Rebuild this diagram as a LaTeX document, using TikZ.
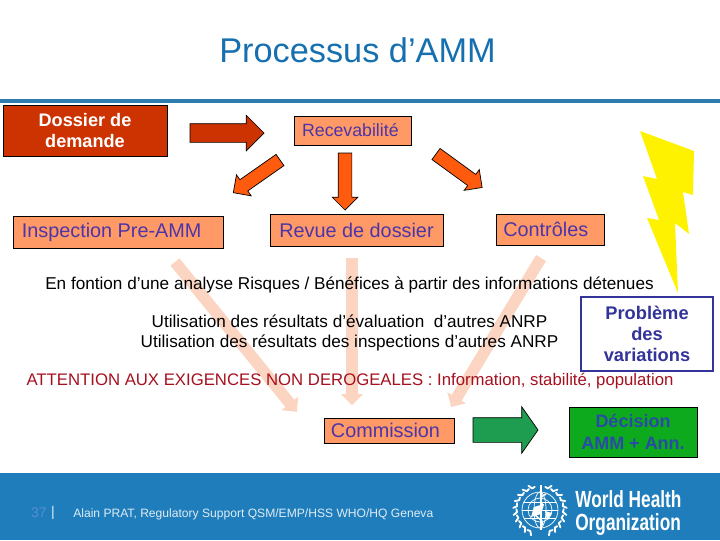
\documentclass[tikz,border=0pt]{standalone}
\usepackage{fontspec}
\setmainfont{Liberation Sans}
\newfontfamily\whofont[FakeStretch=0.74]{Liberation Sans}
\usetikzlibrary{shapes.arrows,calc}

\definecolor{whoblue}{HTML}{1F7DBB}
\definecolor{titleblue}{HTML}{1670B0}
\definecolor{rulebar}{HTML}{2E7CAB}
\definecolor{brick}{HTML}{CC3300}
\definecolor{salmon}{HTML}{FF9966}
\definecolor{violettext}{HTML}{4B35A8}
\definecolor{orangearrow}{HTML}{FF5B0F}
\definecolor{palearrow}{HTML}{FBD5C2}
\definecolor{navybox}{HTML}{333399}
\definecolor{darkred}{HTML}{A50F1E}
\definecolor{greenarrow}{HTML}{1E9C50}
\definecolor{greenbox}{HTML}{0EAA1E}
\definecolor{bluetext}{HTML}{2A4BA5}

\def\pxu{0.025cm}

\tikzset{
  stepbox/.style n args={2}{draw=black,fill=salmon,text=violettext,line width=0.7pt,
    minimum width=#1*\pxu,minimum height=#2*\pxu,inner sep=0pt,outer sep=0pt,align=center,
    font=\fontsize{14.1pt}{15pt}\selectfont},
  blockarrow/.style n args={3}{single arrow,single arrow head indent=0pt,anchor=tail,
    inner sep=#1*0.5*\pxu,outer sep=0pt,single arrow head extend=#2*\pxu,minimum height=#3*\pxu},
  infotext/.style={inner sep=0pt,align=center,font=\fontsize{12.2pt}{14.2pt}\selectfont},
}

\begin{document}
\begin{tikzpicture}[x=0.025cm,y=-0.025cm]
  \useasboundingbox (0,0) rectangle (720,540);

  \fill[whoblue] (0,473) rectangle (720,540);
  \fill[rulebar] (0,99) rectangle (720,103);

  \node[text=titleblue,inner sep=0pt,font=\fontsize{24.4pt}{28pt}\selectfont] (title) at (357.5,50) {Processus d’AMM};

  % faded arrows towards the commission
  \node[blockarrow={11}{5}{193},fill=palearrow,rotate=-50.9] (pale1) at (175,262) {};
  \node[blockarrow={11}{5}{147},fill=palearrow,rotate=-90] (pale2) at (352,258) {};
  \node[blockarrow={11}{5}{174},fill=palearrow,rotate=-121.1] (pale3) at (541,258) {};

  % first row
  \node[stepbox={164}{51},fill=brick,text=white,font=\bfseries\fontsize{12.9pt}{15pt}\selectfont] (dossier) at (85,130.5) {Dossier de\\demande};
  \node[stepbox={117}{29},font=\fontsize{12.6pt}{15pt}\selectfont] (recev) at (352.5,130.5) {Recevabilité\hspace*{3pt}};

  % second row
  \node[stepbox={210}{32}] (inspection) at (118,232) {\raisebox{-0.7pt}{Inspection Pre-AMM}\hspace*{9pt}};
  \node[stepbox={173}{32}] (revue) at (356.5,230) {Revue de dossier};
  \node[stepbox={108}{31}] (controles) at (550,229.5) {Contrôles\hspace*{6pt}};

  \node[blockarrow={18}{8.5}{74},draw=black,fill=brick,line width=0.5pt] (arrow1) at (190,133) {};
  \node[blockarrow={13}{6}{57},draw=black,fill=orangearrow,line width=0.5pt,rotate=-145] (arrow2) at (280,160) {};
  \node[blockarrow={13}{6}{57},draw=black,fill=orangearrow,line width=0.5pt,rotate=-90] (arrow3) at (345,153) {};
  \node[blockarrow={13}{6}{57},draw=black,fill=orangearrow,line width=0.5pt,rotate=-36] (arrow4) at (436,154) {};

  % lightning
  \fill[yellow] (640,131) -- (694,151) -- (693,195) -- (683,192) -- (689,234) -- (675,223)
    -- (678,293) -- (647,218) -- (659,220) -- (643,176) -- (657,179) -- cycle;

  \node[infotext] (analyse) at (349.5,285) {En fontion d’une analyse Risques / Bénéfices à partir des informations détenues};
  \node[infotext] (resultats) at (349.5,333) {Utilisation des résultats d’évaluation\ \ d’autres ANRP\\Utilisation des résultats des inspections d’autres ANRP};
  \node[infotext,text=darkred,font=\fontsize{11.9pt}{14pt}\selectfont] (attention) at (350,381) {ATTENTION AUX EXIGENCES NON DEROGEALES : Information, stabilité, population};

  \node[stepbox={132}{74},draw=navybox,fill=white,text=navybox,line width=1.6pt,
    font=\bfseries\fontsize{13pt}{15pt}\selectfont] (probleme) at (647,334) {Problème\\des\\variations};

  \node[stepbox={130}{25}] (commission) at (389,430.5) {\raisebox{-1.4pt}{Commission}\hspace*{5pt}};
  \node[blockarrow={24}{11}{65},draw=black,fill=greenarrow,line width=0.5pt,single arrow tip angle=110] (arrow5) at (473,430) {};
  \node[stepbox={128}{50},fill=greenbox,text=bluetext,font=\bfseries\fontsize{12.8pt}{15.5pt}\selectfont] (decision) at (633,432) {Décision\\AMM + Ann.};

  % footer
  \node[text=cyan!50!blue!70!white,inner sep=0pt,font=\fontsize{10pt}{12pt}\selectfont] (page) at (39,513) {37};
  \node[text=white!85!whoblue,inner sep=0pt,font=\fontsize{10pt}{12pt}\selectfont] (bar) at (53,513) {|};
  \node[text=white!85!whoblue,inner sep=0pt,anchor=west,font=\fontsize{8.6pt}{10pt}\selectfont] (author) at (73,514.5) {Alain PRAT, Regulatory Support QSM/EMP/HSS WHO/HQ Geneva};
  \node[text=white,inner sep=0pt,anchor=west,align=left,font=\whofont\bfseries\fontsize{16.6pt}{17pt}\selectfont] (who) at (575,513) {World Health\\Organization};

  % emblem
  \begin{scope}[draw=white,line width=0.5pt]
    \draw (540,510) circle (18);
    \draw (540,510) circle (12);
    \draw (540,510) ellipse (6 and 18);
    \draw (522,510) -- (558,510);
    \draw (524,502) -- (556,502);
    \draw (524,518) -- (556,518);
    \draw[line width=1.1pt] (541,485) -- (541,530);
    \draw[line width=1.1pt] (546,494) .. controls (532,500) and (552,506) .. (536,512) .. controls (530,516) and (548,520) .. (541,526);
    \fill[white] (534,507) -- (544,504) -- (541,514) -- (531,517) -- cycle;
    \fill[white] (545,511) -- (552,513) -- (547,520) -- cycle;
    \foreach \a in {-70,-55,...,65} {
      \draw[line width=1.3pt,line cap=round] ($(540,510)+(\a:23)$) -- ++(\a+35:4.5);
      \draw[line width=1.3pt,line cap=round] ($(540,510)+(\a:23)$) -- ++(\a-80:3);
      \draw[line width=1.3pt,line cap=round] ($(540,510)+(180-\a:23)$) -- ++(145-\a:4.5);
      \draw[line width=1.3pt,line cap=round] ($(540,510)+(180-\a:23)$) -- ++(260-\a:3);
    }
  \end{scope}
\end{tikzpicture}
\end{document}
